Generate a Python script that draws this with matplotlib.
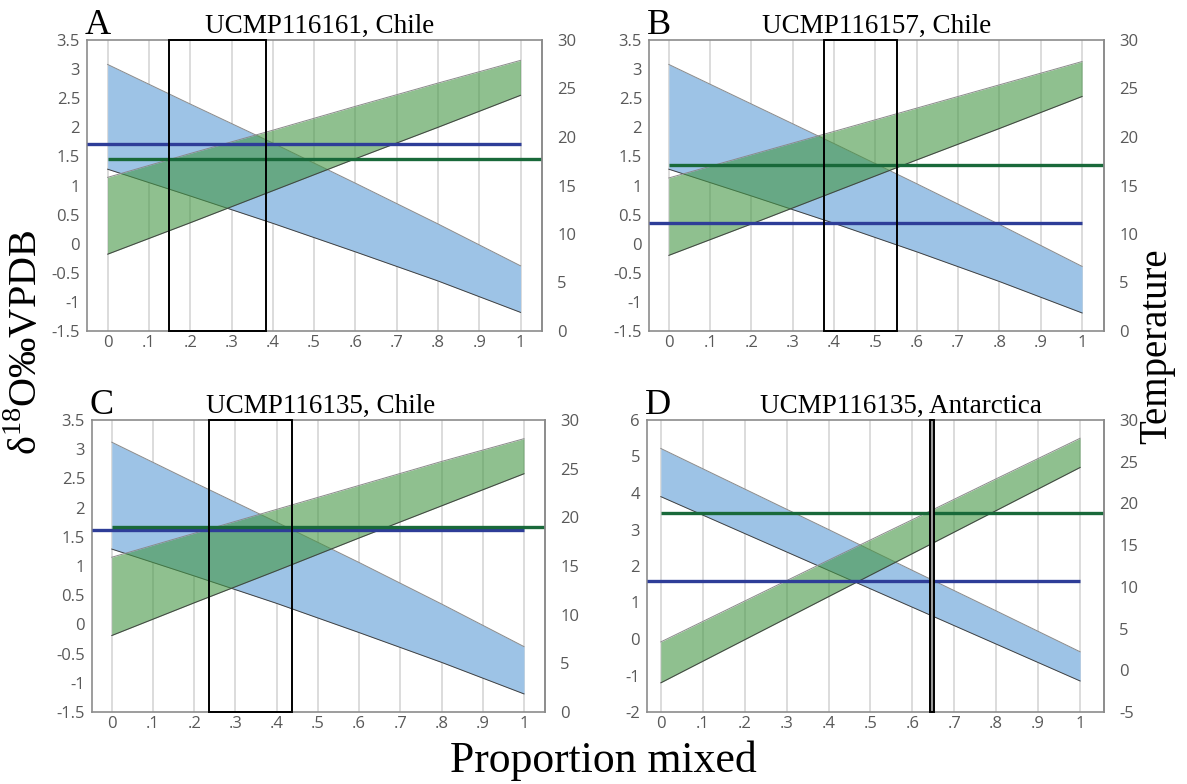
import numpy as np
import matplotlib
matplotlib.use("Agg")
import matplotlib.pyplot as plt
from matplotlib.patches import Rectangle

plt.rcParams["font.family"] = ["Liberation Serif", "DejaVu Serif"]
plt.rcParams["mathtext.fontset"] = "custom"
plt.rcParams["mathtext.rm"] = "Liberation Serif"

# proportion mixed (x positions of the read-off points)
mix = [0.0, 0.2, 0.4, 0.6, 0.8, 1.0]

# A  UCMP116161, Chile
a_blue_hi = [3.08, 2.40, 1.73, 1.04, 0.34, -0.38]
a_blue_lo = [1.28, 0.82, 0.35, -0.14, -0.64, -1.18]
a_green_hi = [1.14, 1.55, 1.95, 2.36, 2.76, 3.15]
a_green_lo = [-0.18, 0.36, 0.91, 1.46, 2.00, 2.55]
a_blue_line, a_green_line = 1.71, 1.46
a_box = (0.148, 0.383)

# B  UCMP116157, Chile
b_blue_hi = [3.08, 2.40, 1.72, 1.03, 0.33, -0.39]
b_blue_lo = [1.28, 0.82, 0.35, -0.14, -0.65, -1.19]
b_green_hi = [1.13, 1.53, 1.93, 2.33, 2.73, 3.13]
b_green_lo = [-0.20, 0.34, 0.89, 1.44, 1.98, 2.53]
b_blue_line, b_green_line = 0.35, 1.35
b_box = (0.375, 0.551)

# C  UCMP116135, Chile
c_blue_hi = [3.12, 2.43, 1.75, 1.06, 0.35, -0.38]
c_blue_lo = [1.29, 0.83, 0.36, -0.14, -0.65, -1.19]
c_green_hi = [1.15, 1.56, 1.97, 2.38, 2.79, 3.18]
c_green_lo = [-0.19, 0.37, 0.92, 1.48, 2.03, 2.58]
c_blue_line, c_green_line = 1.61, 1.66
c_box = (0.236, 0.437)

# D  UCMP116135, Antarctica
d_blue_hi = [5.22, 4.11, 3.00, 1.88, 0.77, -0.35]
d_blue_lo = [3.90, 2.89, 1.88, 0.87, -0.14, -1.15]
d_green_hi = [-0.08, 1.04, 2.16, 3.27, 4.39, 5.50]
d_green_lo = [-1.20, -0.02, 1.16, 2.34, 3.52, 4.70]
d_blue_line, d_green_line = 1.60, 3.44
d_box = (0.643, 0.651)

x_ticks = [0, .1, .2, .3, .4, .5, .6, .7, .8, .9, 1]
x_ticklabels = ["0", ".1", ".2", ".3", ".4", ".5", ".6", ".7", ".8", ".9", "1"]
chile_left = [3.5, 3, 2.5, 2, 1.5, 1, 0.5, 0, -0.5, -1, -1.5]
chile_left_lbl = ["3.5", "3", "2.5", "2", "1.5", "1", "0.5", "0", "-0.5", "-1", "-1.5"]
chile_right = [0, 5, 10, 15, 20, 25, 30]
ant_left = [6, 5, 4, 3, 2, 1, 0, -1, -2]
ant_right = [-5, 0, 5, 10, 15, 20, 25, 30]

W, H = 1187, 784
panels = [
    dict(letter="A", title="UCMP116161, Chile", box_px=(87, 40, 542, 331),
         xlim=(-0.050, 1.052), ylim=(-1.5, 3.5), rlim=(0, 30),
         lticks=chile_left, ltl=chile_left_lbl, rticks=chile_right,
         bh=a_blue_hi, bl=a_blue_lo, gh=a_green_hi, gl=a_green_lo,
         bline=a_blue_line, gline=a_green_line, box=a_box, tx=0.512),
    dict(letter="B", title="UCMP116157, Chile", box_px=(649, 40, 1104, 331),
         xlim=(-0.048, 1.053), ylim=(-1.5, 3.5), rlim=(0, 30),
         lticks=chile_left, ltl=chile_left_lbl, rticks=chile_right,
         bh=b_blue_hi, bl=b_blue_lo, gh=b_green_hi, gl=b_green_lo,
         bline=b_blue_line, gline=b_green_line, box=b_box, tx=0.5),
    dict(letter="C", title="UCMP116135, Chile", box_px=(92, 420, 545, 712),
         xlim=(-0.048, 1.051), ylim=(-1.5, 3.5), rlim=(0, 30),
         lticks=chile_left, ltl=chile_left_lbl, rticks=chile_right,
         bh=c_blue_hi, bl=c_blue_lo, gh=c_green_hi, gl=c_green_lo,
         bline=c_blue_line, gline=c_green_line, box=c_box, tx=0.505),
    dict(letter="D", title="UCMP116135, Antarctica", box_px=(647, 420, 1104, 712),
         xlim=(-0.033, 1.057), ylim=(-2, 6), rlim=(-5, 30),
         lticks=ant_left, ltl=[str(v) for v in ant_left], rticks=ant_right,
         bh=d_blue_hi, bl=d_blue_lo, gh=d_green_hi, gl=d_green_lo,
         bline=d_blue_line, gline=d_green_line, box=d_box, tx=0.556),
]

tick_kw = dict(length=0, labelsize=12, labelcolor="#595959",
               labelfontfamily="Open Sans")
spine_col = "#8c8c8c"

fig = plt.figure(figsize=(W / 100, H / 100), dpi=100)

for p in panels:
    x0, y0, x1, y1 = p["box_px"]
    ax = fig.add_axes([x0 / W, 1 - y1 / H, (x1 - x0) / W, (y1 - y0) / H])
    ax.set_xlim(*p["xlim"])
    ax.set_ylim(*p["ylim"])

    # mixing envelopes
    ax.fill_between(mix, p["bl"], p["bh"], color="#9dc3e6", lw=0, zorder=2)
    ax.plot(mix, p["bh"], color="#8a8a8a", lw=0.7, zorder=3)
    ax.plot(mix, p["bl"], color="#404040", lw=0.7, zorder=3)
    ax.fill_between(mix, p["gl"], p["gh"], color="#449644", alpha=0.6,
                    lw=0, zorder=4)
    ax.plot(mix, p["gh"], color="#8a8a8a", lw=0.7, zorder=5)
    ax.plot(mix, p["gl"], color="#404040", lw=0.7, zorder=5)

    # measured values
    ax.plot([p["xlim"][0], 1], [p["bline"]] * 2, color="#2e3d98", lw=2.4,
            solid_capstyle="butt", zorder=6)
    ax.plot([0, p["xlim"][1]], [p["gline"]] * 2, color="#19693a", lw=2.4,
            solid_capstyle="butt", zorder=6)

    # best-fit window
    lo, hi = p["box"]
    ymin, ymax = p["ylim"]
    face = "#9a9a9a" if hi - lo < 0.02 else "none"
    ax.add_patch(Rectangle((lo, ymin), hi - lo, ymax - ymin, fill=True,
                           facecolor=face, edgecolor="black", lw=1.4,
                           zorder=7, clip_on=False))

    ax.set_xticks(x_ticks, x_ticklabels)
    ax.set_yticks(p["lticks"], p["ltl"])
    ax.tick_params(**tick_kw)
    ax.tick_params(axis="x", pad=3)
    ax.tick_params(axis="y", pad=5)
    ax.grid(axis="x", color="#d9d9d9", lw=1.3, zorder=0)
    ax.set_axisbelow(True)
    for s in ax.spines.values():
        s.set_color(spine_col)
        s.set_linewidth(1.2)

    ax2 = ax.twinx()
    ax2.set_ylim(*p["rlim"])
    ax2.set_yticks(p["rticks"], [str(v) for v in p["rticks"]])
    ax2.tick_params(pad=11, **tick_kw)
    for name, s in ax2.spines.items():
        s.set_visible(name == "right")
        s.set_color(spine_col)
        s.set_linewidth(1.2)

    ax.text(-0.005, 1.02, p["letter"], transform=ax.transAxes, fontsize=26,
            ha="left", va="baseline")
    ax.text(p["tx"], 1.024, p["title"], transform=ax.transAxes, fontsize=19.5,
            ha="center", va="baseline")

fig.text(27 / W, 1 - 342 / H, r"δ$^{\mathrm{18}}$O‰VPDB", rotation=90,
         fontsize=29, ha="center", va="center")
fig.text(1157 / W, 1 - 346 / H, "Temperature", rotation=90, fontsize=28,
         ha="center", va="center")
fig.text(603 / W, 1 - 772 / H, "Proportion mixed", fontsize=31.5,
         ha="center", va="baseline")

fig.savefig("out.png", dpi=100)
